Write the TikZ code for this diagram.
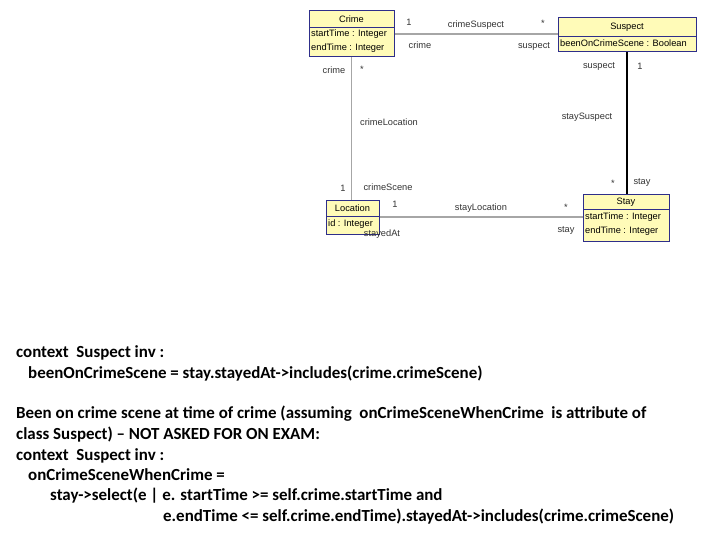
\documentclass[tikz,border=0pt]{standalone}
\usepackage{fontspec}
\setmainfont{Carlito}
\newfontfamily\umlfont{Liberation Sans}
\begin{document}
\begin{tikzpicture}[x=1bp,y=-1bp,
  cls/.style={draw=umlborder,fill=umlfill,line width=1pt,inner sep=0pt},
  sep/.style={draw=umlborder,line width=0.8pt},
  lab/.style={font=\umlfont\fontsize{9.3}{10}\selectfont,text=black!80,inner sep=0pt},
  attr/.style={font=\umlfont\fontsize{9.3}{10}\selectfont,inner sep=0pt,anchor=west},
  grayline/.style={draw=black!35,line width=1.2pt},
  blackline/.style={draw=black,line width=1.3pt},
  ocl/.style={font=\bfseries\fontsize{17}{19}\selectfont,anchor=base west,inner sep=0pt}]
\definecolor{umlborder}{HTML}{2E2E8A}
\definecolor{umlfill}{HTML}{FFFBB8}
\useasboundingbox (0,0) rectangle (720,540);
% classes
\node[cls,minimum width=85bp,minimum height=46bp] (crime) at (351.5,34) {};
\draw[sep] (309,27) -- (394,27);
\node[lab,text=black] (crimeT) at (351.5,19) {Crime};
\node[attr] (crimeA1) at (311,34.5) {startTime : Integer};
\node[attr] (crimeA2) at (311,48) {endTime : Integer};

\node[cls,minimum width=138bp,minimum height=34bp] (suspect) at (627,35) {};
\draw[sep] (558,36) -- (696,36);
\node[lab,text=black] (suspectT) at (627,27) {Suspect};
\node[attr] (suspectA1) at (560,43.5) {beenOnCrimeScene : Boolean};

\node[cls,minimum width=53bp,minimum height=34bp] (location) at (352.5,217) {};
\draw[sep] (326,216) -- (379,216);
\node[lab,text=black] (locationT) at (352.5,208) {Location};
\node[attr] (locationA1) at (328,224.5) {id : Integer};

\node[cls,minimum width=86bp,minimum height=47bp] (stay) at (626,217.5) {};
\draw[sep] (583,209) -- (669,209);
\node[lab,text=black] (stayT) at (626,202) {Stay};
\node[attr] (stayA1) at (585,217) {startTime : Integer};
\node[attr] (stayA2) at (585,231) {endTime : Integer};

% associations
\draw[grayline] (crime.east) -- (crime.east -| suspect.west);
\draw[grayline] (crime.south) -- (crime.south |- location.north);
\draw[blackline] (suspect.south) -- (suspect.south |- stay.north);
\draw[grayline] (location.east) -- (location.east -| stay.west);

% labels
\node[lab] (l1) at (409,22) {1};
\node[lab] (l2) at (476,25) {crimeSuspect};
\node[lab] (l3) at (543,23) {*};
\node[lab] (l4) at (420,45) {crime};
\node[lab] (l5) at (534,46) {suspect};
\node[lab] (l6) at (334,70) {crime};
\node[lab] (l7) at (362,69) {*};
\node[lab] (l8) at (599,66) {suspect};
\node[lab] (l9) at (640,66) {1};
\node[lab] (l10) at (389,122) {crimeLocation};
\node[lab] (l11) at (587,117) {staySuspect};
\node[lab] (l12) at (343,188) {1};
\node[lab] (l13) at (388,187) {crimeScene};
\node[lab] (l14) at (613,183) {*};
\node[lab] (l15) at (642,182) {stay};
\node[lab] (l16) at (395,204) {1};
\node[lab] (l17) at (481,208) {stayLocation};
\node[lab] (l18) at (566,207) {*};
\node[lab] (l19) at (382,234) {stayedAt};
\node[lab] (l20) at (566,230) {stay};

% OCL text
\node[ocl] (t1) at (16,357) {context\ \ Suspect inv :};
\node[ocl] (t2) at (28,378) {beenOnCrimeScene = stay.stayedAt->includes(crime.crimeScene)};
\node[ocl] (t3) at (16,418) {Been on crime scene at time of crime (assuming\ \ onCrimeSceneWhenCrime\ \ is attribute of};
\node[ocl] (t4) at (16,439) {class Suspect) – NOT ASKED FOR ON EXAM:};
\node[ocl] (t5) at (16,460) {context\ \ Suspect inv :};
\node[ocl] (t6) at (28,480) {onCrimeSceneWhenCrime =};
\node[ocl] (t7) at (50,500) {stay->select(e | e. startTime >= self.crime.startTime and};
\node[ocl] (t8) at (163,521) {e.endTime <= self.crime.endTime).stayedAt->includes(crime.crimeScene)};
\end{tikzpicture}
\end{document}
